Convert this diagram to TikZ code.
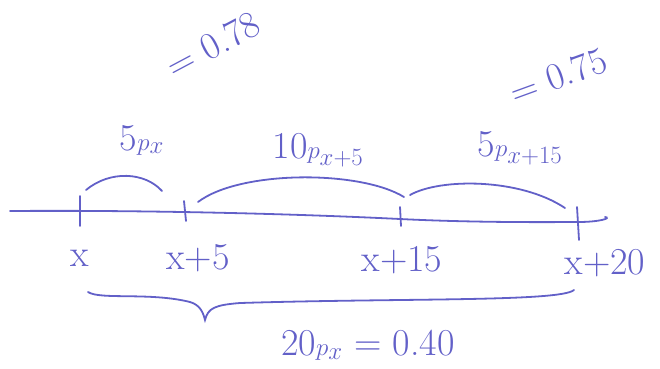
\documentclass[tikz,border=0pt]{standalone}
\usetikzlibrary{decorations.pathreplacing}
\definecolor{ink}{RGB}{98,96,200}
\begin{document}
\begin{tikzpicture}[x=1pt,y=-1pt,
  pen/.style={draw=ink,line width=1.8pt,line cap=round},
  lbl/.style={text=ink,font=\fontsize{38}{44}\selectfont,inner sep=0pt}]
\useasboundingbox (0,0) rectangle (660,368);
% main line
\coordinate (L0) at (10,211);
\coordinate (L1) at (605,217);
\coordinate (t0) at (80,211);
\coordinate (t1) at (185,213);
\coordinate (t2) at (400,219);
\coordinate (t3) at (578,222);
\draw[pen] (L0) .. controls (150,210) and (300,214) .. (t2) .. controls (480,223) and (560,222) .. (t3) .. controls (600,222) and (612,218) .. (L1);
% ticks
\draw[pen] (80,196) -- (80,226);
\draw[pen] (184,201) -- (186,221);
\draw[pen] (400,207) -- (401,226);
\draw[pen] (577,207) -- (579,240);
% tick labels
\node[lbl] (nx) at (80,258) {x};
\node[lbl] (nx5) at (198,258) {x+5};
\node[lbl] (nx15) at (402,260) {x+15};
\node[lbl] (nx20) at (605,263) {x+20};
% arcs
\coordinate (a0) at (86,190);
\coordinate (a1) at (162,191);
\draw[pen] (a0) .. controls (110,170) and (145,172) .. (a1);
\coordinate (b0) at (198,202);
\coordinate (b1) at (404,197);
\draw[pen] (b0) .. controls (240,170) and (360,170) .. (b1);
\coordinate (c0) at (410,195);
\coordinate (c1) at (565,208);
\draw[pen] (c0) .. controls (440,178) and (520,178) .. (c1);
% arc labels
\node[lbl] (p5) at (142,140) {5$p_{x}$};
\node[lbl] (p10) at (318,150) {10$p_{x+5}$};
\node[lbl] (p515) at (520,148) {5$p_{x+15}$};
\node[lbl,rotate=28] (v78) at (213,45) {= 0.78};
\node[lbl,rotate=20] (v75) at (558,76) {= 0.75};
% brace
\coordinate (d0) at (88,292);
\coordinate (d1) at (574,290);
\draw[pen] (d0) .. controls (100,300) and (150,292) .. (190,302) .. controls (200,305) and (203,312) .. (205,320)
  .. controls (208,308) and (215,305) .. (240,303) .. controls (400,298) and (560,302) .. (d1);
\node[lbl] (p20) at (368,345) {20$p_{x}$ = 0.40};
\end{tikzpicture}
\end{document}
